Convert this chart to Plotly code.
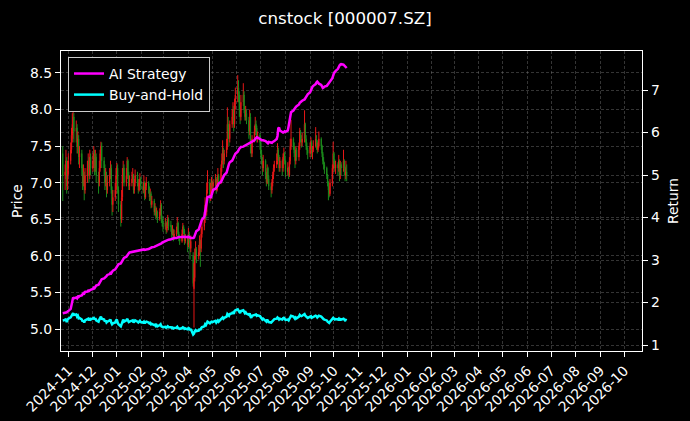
import pandas as pd
import numpy as np
import plotly.graph_objects as go

# ---- data ----
dates = pd.bdate_range("2024-10-25", "2025-10-17")

opens = [
    7.40,
    7.10, 7.15, 7.30, 6.95, 7.20,
    7.30, 7.45, 7.65, 7.80, 7.90,
    7.70, 7.75, 7.50, 7.60, 7.35,
    7.40, 7.20, 7.00, 7.10, 6.90,
    7.10, 7.20, 7.30, 7.10, 7.35,
    7.20, 7.30, 7.40, 7.20, 7.35,
    7.10, 7.00, 7.20, 7.40, 7.50,
    7.30, 7.20, 7.00, 7.10, 6.90,
    7.00, 7.10, 7.20, 6.90, 6.70,
    6.80, 6.90, 7.10, 7.20, 6.90,
    6.70, 6.50, 6.80, 7.10, 7.20,
    7.00, 7.10, 7.30, 7.10, 6.95,
    7.00, 7.05, 7.10, 6.90, 7.00,
    7.10, 7.00, 6.90, 7.00, 7.05,
    6.95, 6.90, 7.00, 6.80, 6.95,
    7.00, 6.90, 6.80, 6.85, 6.70,
    6.75, 6.60, 6.65, 6.55, 6.60,
    6.50, 6.60, 6.70, 6.50, 6.45,
    6.40, 6.45, 6.35, 6.40, 6.50,
    6.42, 6.40, 6.30, 6.35, 6.25,
    6.30, 6.35, 6.45, 6.30, 6.25,
    6.20, 6.30, 6.40, 6.35, 6.20,
    6.25, 6.15, 6.30, 6.25, 6.10,
    6.00, 5.55, 5.70, 6.00, 6.10,
    6.00, 6.05, 6.20, 6.10, 6.30,
    6.40, 6.50, 6.70, 6.60, 6.90,
    7.00, 6.80, 6.90, 7.00, 6.95,
    7.00, 7.05, 6.90, 7.00, 7.10,
    7.00, 7.20, 7.30, 7.45, 7.30,
    7.40, 7.50, 7.80, 7.70, 7.60,
    7.80, 7.90, 8.00, 7.80, 8.10,
    8.20, 8.30, 8.20, 8.00, 7.90,
    8.10, 8.20, 8.00, 7.90, 7.95,
    7.85, 7.70, 7.90, 7.50, 7.40,
    7.60, 7.70, 7.80, 7.75, 7.60,
    7.65, 7.55, 7.40, 7.30, 7.20,
    7.30, 7.10, 7.00, 7.20, 7.05,
    6.95, 6.90, 7.00, 7.10, 7.20,
    7.25, 7.30, 7.45, 7.35, 7.20,
    7.30, 7.20, 7.35, 7.40, 7.30,
    7.15, 7.20, 7.10, 7.30, 7.50,
    7.60, 7.50, 7.40, 7.30, 7.45,
    7.35, 7.50, 7.70, 7.60, 7.55,
    7.60, 7.80, 7.60, 7.50, 7.45,
    7.40, 7.50, 7.55, 7.40, 7.45,
    7.50, 7.60, 7.55, 7.45, 7.50,
    7.60, 7.50, 7.40, 7.30, 7.25,
    7.20, 7.10, 7.00, 6.90, 6.85,
    7.00, 7.20, 7.40, 7.30, 7.20,
    7.25, 7.20, 7.30, 7.10, 7.25,
    7.20, 7.30, 7.20, 7.10, 7.15,
]

highs = [
    7.50,
    7.25, 7.45, 7.35, 7.30, 7.40,
    7.55, 7.75, 7.95, 7.97, 7.95,
    7.85, 7.80, 7.70, 7.65, 7.50,
    7.45, 7.25, 7.25, 7.15, 7.20,
    7.30, 7.40, 7.35, 7.45, 7.40,
    7.40, 7.50, 7.45, 7.45, 7.40,
    7.15, 7.30, 7.45, 7.56, 7.55,
    7.35, 7.25, 7.20, 7.15, 7.10,
    7.20, 7.30, 7.25, 6.95, 6.90,
    7.00, 7.20, 7.27, 7.25, 6.95,
    6.75, 6.90, 7.20, 7.30, 7.25,
    7.20, 7.35, 7.32, 7.15, 7.10,
    7.15, 7.20, 7.12, 7.05, 7.18,
    7.15, 7.05, 7.05, 7.13, 7.08,
    7.00, 7.10, 7.02, 7.00, 7.08,
    7.02, 6.95, 6.92, 6.88, 6.82,
    6.78, 6.72, 6.68, 6.66, 6.62,
    6.65, 6.76, 6.72, 6.55, 6.50,
    6.52, 6.48, 6.46, 6.56, 6.52,
    6.48, 6.42, 6.42, 6.37, 6.36,
    6.40, 6.53, 6.47, 6.33, 6.28,
    6.36, 6.45, 6.42, 6.37, 6.30,
    6.28, 6.38, 6.33, 6.27, 6.28,
    6.05, 5.90, 6.10, 6.20, 6.12,
    6.15, 6.28, 6.22, 6.38, 6.50,
    6.60, 6.80, 6.72, 7.00, 7.17,
    7.05, 7.00, 7.08, 7.03, 7.05,
    7.12, 7.08, 7.05, 7.20, 7.12,
    7.25, 7.40, 7.58, 7.48, 7.45,
    7.60, 8.03, 7.90, 7.75, 7.85,
    8.00, 8.10, 8.05, 8.15, 8.30,
    8.47, 8.40, 8.25, 8.05, 8.20,
    8.36, 8.25, 8.05, 8.05, 8.00,
    7.90, 8.00, 7.95, 7.55, 7.65,
    7.78, 7.90, 7.85, 7.78, 7.70,
    7.68, 7.58, 7.45, 7.35, 7.38,
    7.32, 7.15, 7.25, 7.22, 7.10,
    7.00, 7.05, 7.15, 7.25, 7.30,
    7.40, 7.54, 7.48, 7.38, 7.35,
    7.32, 7.40, 7.48, 7.42, 7.32,
    7.28, 7.22, 7.35, 7.60, 7.86,
    7.62, 7.55, 7.45, 7.50, 7.48,
    7.55, 7.75, 7.72, 7.65, 7.68,
    7.99, 7.82, 7.65, 7.55, 7.48,
    7.55, 7.62, 7.58, 7.50, 7.58,
    7.76, 7.65, 7.58, 7.55, 7.70,
    7.62, 7.52, 7.42, 7.35, 7.28,
    7.22, 7.12, 7.02, 6.95, 7.05,
    7.25, 7.56, 7.42, 7.32, 7.30,
    7.28, 7.38, 7.32, 7.30, 7.28,
    7.45, 7.32, 7.22, 7.30, 7.25,
]

lows = [
    6.75,
    6.90, 7.05, 6.85, 6.90, 7.10,
    7.25, 7.40, 7.55, 7.60, 7.55,
    7.55, 7.40, 7.40, 7.25, 7.20,
    7.10, 6.90, 6.95, 6.76, 6.85,
    7.00, 7.10, 7.00, 7.05, 7.10,
    7.15, 7.20, 7.10, 7.15, 7.00,
    6.85, 6.95, 7.15, 7.30, 7.20,
    7.10, 6.90, 6.95, 6.80, 6.85,
    6.95, 7.05, 6.85, 6.55, 6.60,
    6.75, 6.85, 7.05, 6.85, 6.60,
    6.40, 6.45, 6.75, 7.00, 6.95,
    6.95, 7.05, 7.05, 6.90, 6.90,
    6.95, 7.00, 6.85, 6.85, 6.95,
    6.95, 6.85, 6.88, 6.95, 6.90,
    6.85, 6.86, 6.76, 6.78, 6.90,
    6.85, 6.75, 6.76, 6.65, 6.66,
    6.55, 6.56, 6.50, 6.52, 6.45,
    6.48, 6.55, 6.45, 6.40, 6.33,
    6.36, 6.30, 6.32, 6.38, 6.35,
    6.33, 6.25, 6.28, 6.20, 6.22,
    6.27, 6.32, 6.26, 6.20, 6.15,
    6.18, 6.27, 6.30, 6.15, 6.17,
    6.05, 6.12, 6.18, 5.95, 6.05,
    5.58, 5.02, 5.65, 5.95, 5.90,
    5.95, 6.00, 5.85, 6.05, 6.25,
    6.35, 6.45, 6.50, 6.55, 6.85,
    6.72, 6.75, 6.85, 6.88, 6.90,
    6.95, 6.85, 6.88, 6.95, 6.95,
    6.98, 7.15, 7.25, 7.20, 7.25,
    7.35, 7.45, 7.60, 7.50, 7.55,
    7.75, 7.80, 7.70, 7.75, 8.00,
    8.10, 8.10, 7.90, 7.80, 7.85,
    8.05, 7.95, 7.85, 7.85, 7.80,
    7.60, 7.65, 7.40, 7.35, 7.35,
    7.55, 7.65, 7.65, 7.55, 7.55,
    7.45, 7.35, 7.25, 7.10, 7.15,
    7.05, 6.95, 6.98, 7.00, 6.90,
    6.80, 6.85, 6.95, 7.05, 7.15,
    7.20, 7.25, 7.30, 7.15, 7.15,
    7.10, 7.15, 7.30, 7.25, 7.08,
    7.10, 7.05, 7.08, 7.25, 7.45,
    7.45, 7.35, 7.20, 7.25, 7.30,
    7.30, 7.45, 7.55, 7.48, 7.50,
    7.55, 7.55, 7.45, 7.38, 7.32,
    7.35, 7.45, 7.35, 7.32, 7.42,
    7.48, 7.45, 7.40, 7.42, 7.48,
    7.45, 7.35, 7.25, 7.18, 7.12,
    7.05, 6.95, 6.76, 6.80, 6.82,
    6.95, 7.15, 7.25, 7.15, 7.12,
    7.10, 7.15, 7.02, 7.05, 7.10,
    7.15, 7.10, 7.02, 7.05, 7.02,
]

closes = [
    7.10,
    7.15, 7.30, 6.95, 7.20, 7.30,
    7.45, 7.65, 7.80, 7.90, 7.70,
    7.75, 7.50, 7.60, 7.35, 7.40,
    7.20, 7.00, 7.10, 6.90, 7.10,
    7.20, 7.30, 7.10, 7.35, 7.20,
    7.30, 7.40, 7.20, 7.35, 7.10,
    7.00, 7.20, 7.40, 7.50, 7.30,
    7.20, 7.00, 7.10, 6.90, 7.00,
    7.10, 7.20, 6.90, 6.70, 6.80,
    6.90, 7.10, 7.20, 6.90, 6.70,
    6.50, 6.80, 7.10, 7.20, 7.00,
    7.10, 7.30, 7.10, 6.95, 7.00,
    7.05, 7.10, 6.90, 7.00, 7.10,
    7.00, 6.90, 7.00, 7.05, 6.95,
    6.90, 7.00, 6.80, 6.95, 7.00,
    6.90, 6.80, 6.85, 6.70, 6.75,
    6.60, 6.65, 6.55, 6.60, 6.50,
    6.60, 6.70, 6.50, 6.45, 6.40,
    6.45, 6.35, 6.40, 6.50, 6.40,
    6.40, 6.30, 6.35, 6.25, 6.30,
    6.35, 6.45, 6.30, 6.25, 6.20,
    6.30, 6.40, 6.35, 6.20, 6.25,
    6.15, 6.30, 6.25, 6.10, 6.20,
    5.62, 5.70, 6.00, 6.10, 6.00,
    6.05, 6.20, 6.10, 6.30, 6.40,
    6.50, 6.70, 6.60, 6.90, 7.00,
    6.80, 6.90, 7.00, 6.95, 7.00,
    7.05, 6.90, 7.00, 7.10, 7.00,
    7.20, 7.30, 7.45, 7.30, 7.40,
    7.50, 7.80, 7.70, 7.60, 7.80,
    7.90, 8.00, 7.80, 8.10, 8.20,
    8.30, 8.20, 8.00, 7.90, 8.10,
    8.20, 8.00, 7.90, 7.95, 7.85,
    7.70, 7.90, 7.50, 7.40, 7.60,
    7.70, 7.80, 7.75, 7.60, 7.65,
    7.55, 7.40, 7.30, 7.20, 7.30,
    7.10, 7.00, 7.20, 7.05, 6.95,
    6.90, 7.00, 7.10, 7.20, 7.25,
    7.30, 7.45, 7.35, 7.20, 7.30,
    7.20, 7.35, 7.40, 7.30, 7.15,
    7.20, 7.10, 7.30, 7.50, 7.60,
    7.50, 7.40, 7.30, 7.45, 7.35,
    7.50, 7.70, 7.60, 7.55, 7.60,
    7.80, 7.60, 7.50, 7.45, 7.40,
    7.50, 7.55, 7.40, 7.45, 7.50,
    7.60, 7.55, 7.45, 7.50, 7.60,
    7.50, 7.40, 7.30, 7.25, 7.20,
    7.10, 7.00, 6.90, 6.85, 7.00,
    7.20, 7.40, 7.30, 7.20, 7.25,
    7.20, 7.30, 7.10, 7.25, 7.20,
    7.30, 7.20, 7.10, 7.15, 7.10,
]

ai_strategy = [
    1.75,
    1.76, 1.78, 1.77, 1.79, 1.80,
    1.85, 1.95, 2.05, 2.12, 2.10,
    2.12, 2.10, 2.14, 2.13, 2.15,
    2.17, 2.20, 2.22, 2.21, 2.25,
    2.26, 2.28, 2.27, 2.30, 2.30,
    2.32, 2.35, 2.34, 2.38, 2.40,
    2.42, 2.45, 2.50, 2.53, 2.55,
    2.57, 2.58, 2.61, 2.62, 2.65,
    2.67, 2.70, 2.69, 2.72, 2.75,
    2.78, 2.82, 2.86, 2.88, 2.90,
    2.92, 2.96, 3.00, 3.03, 3.05,
    3.08, 3.12, 3.15, 3.16, 3.18,
    3.19, 3.20, 3.20, 3.21, 3.22,
    3.22, 3.23, 3.23, 3.24, 3.24,
    3.24, 3.25, 3.24, 3.25, 3.25,
    3.26, 3.27, 3.28, 3.29, 3.30,
    3.31, 3.32, 3.33, 3.34, 3.35,
    3.36, 3.38, 3.39, 3.41, 3.42,
    3.43, 3.44, 3.45, 3.47, 3.48,
    3.49, 3.50, 3.50, 3.51, 3.52,
    3.52, 3.53, 3.53, 3.54, 3.54,
    3.55, 3.56, 3.55, 3.54, 3.55,
    3.54, 3.55, 3.54, 3.52, 3.52,
    3.52, 3.53, 3.58, 3.64, 3.68,
    3.72, 3.78, 3.82, 3.88, 3.95,
    4.02, 4.12, 4.22, 4.35, 4.48,
    4.50, 4.46, 4.52, 4.58, 4.65,
    4.68, 4.70, 4.72, 4.76, 4.80,
    4.84, 4.88, 4.92, 4.96, 5.00,
    5.06, 5.14, 5.20, 5.26, 5.30,
    5.34, 5.38, 5.42, 5.46, 5.50,
    5.55, 5.60, 5.62, 5.64, 5.66,
    5.67, 5.68, 5.70, 5.71, 5.72,
    5.74, 5.76, 5.78, 5.79, 5.80,
    5.82, 5.85, 5.88, 5.89, 5.88,
    5.86, 5.84, 5.82, 5.81, 5.82,
    5.80, 5.78, 5.76, 5.75, 5.78,
    5.77, 5.76, 5.78, 5.80, 5.80,
    5.85, 5.92, 6.10, 6.12, 6.05,
    6.02, 6.00, 6.01, 6.03, 6.02,
    6.05, 6.15, 6.30, 6.45, 6.48,
    6.52, 6.56, 6.58, 6.60, 6.62,
    6.66, 6.70, 6.72, 6.74, 6.75,
    6.78, 6.82, 6.85, 6.88, 6.90,
    6.95, 7.00, 7.05, 7.08, 7.10,
    7.14, 7.18, 7.20, 7.18, 7.15,
    7.12, 7.08, 7.05, 7.06, 7.08,
    7.10, 7.12, 7.15, 7.18, 7.20,
    7.28, 7.35, 7.40, 7.42, 7.45,
    7.50, 7.55, 7.58, 7.60, 7.61,
    7.60, 7.58, 7.56, 7.54, 7.52,
]

buy_and_hold = [
    1.58,
    1.59, 1.62, 1.54, 1.60, 1.62,
    1.65, 1.70, 1.73, 1.75, 1.71,
    1.72, 1.67, 1.69, 1.63, 1.64,
    1.60, 1.55, 1.58, 1.53, 1.58,
    1.60, 1.62, 1.58, 1.63, 1.60,
    1.62, 1.64, 1.60, 1.63, 1.58,
    1.55, 1.60, 1.64, 1.67, 1.62,
    1.60, 1.55, 1.58, 1.53, 1.55,
    1.58, 1.60, 1.53, 1.49, 1.51,
    1.53, 1.58, 1.60, 1.53, 1.49,
    1.44, 1.51, 1.58, 1.60, 1.55,
    1.58, 1.62, 1.58, 1.54, 1.55,
    1.57, 1.58, 1.53, 1.55, 1.58,
    1.55, 1.53, 1.55, 1.57, 1.54,
    1.53, 1.55, 1.51, 1.54, 1.55,
    1.53, 1.51, 1.52, 1.49, 1.50,
    1.47, 1.48, 1.45, 1.47, 1.44,
    1.47, 1.49, 1.44, 1.43, 1.42,
    1.43, 1.41, 1.42, 1.44, 1.42,
    1.42, 1.40, 1.41, 1.39, 1.40,
    1.41, 1.43, 1.40, 1.39, 1.38,
    1.40, 1.42, 1.41, 1.38, 1.39,
    1.37, 1.40, 1.39, 1.35, 1.38,
    1.25, 1.27, 1.33, 1.35, 1.33,
    1.34, 1.38, 1.35, 1.40, 1.42,
    1.44, 1.49, 1.47, 1.53, 1.55,
    1.51, 1.53, 1.55, 1.54, 1.55,
    1.57, 1.53, 1.55, 1.58, 1.55,
    1.60, 1.62, 1.65, 1.62, 1.64,
    1.67, 1.73, 1.71, 1.69, 1.73,
    1.75, 1.78, 1.73, 1.80, 1.82,
    1.84, 1.82, 1.78, 1.75, 1.80,
    1.82, 1.78, 1.75, 1.77, 1.74,
    1.71, 1.75, 1.67, 1.64, 1.69,
    1.71, 1.73, 1.72, 1.69, 1.70,
    1.68, 1.64, 1.62, 1.60, 1.62,
    1.58, 1.55, 1.60, 1.57, 1.54,
    1.53, 1.55, 1.58, 1.60, 1.61,
    1.62, 1.65, 1.63, 1.60, 1.62,
    1.60, 1.63, 1.64, 1.62, 1.59,
    1.60, 1.58, 1.62, 1.67, 1.69,
    1.67, 1.64, 1.62, 1.65, 1.63,
    1.67, 1.71, 1.69, 1.68, 1.69,
    1.73, 1.69, 1.67, 1.65, 1.64,
    1.67, 1.68, 1.64, 1.65, 1.67,
    1.69, 1.68, 1.65, 1.67, 1.69,
    1.67, 1.64, 1.62, 1.61, 1.60,
    1.58, 1.55, 1.53, 1.52, 1.55,
    1.60, 1.64, 1.62, 1.60, 1.61,
    1.60, 1.62, 1.58, 1.61, 1.60,
    1.62, 1.60, 1.58, 1.59, 1.58,
]

title_text = "cnstock [000007.SZ]"
x_range = ["2024-10-22 19:00", "2026-10-23 07:00"]

# keep wicks consistent with bodies
o = np.array(opens); c = np.array(closes)
h = np.maximum(np.array(highs), np.maximum(o, c))
l = np.minimum(np.array(lows), np.minimum(o, c))

UP = "#ff1a1a"
DOWN = "#1f9a1f"
GRID = "rgba(130,130,130,0.40)"
FONT = "DejaVu Sans"

# plot-area geometry (px)
W, H = 690, 421
L, R, T, B = 61, 48, 51, 70
PW = W - L - R

fig = go.Figure()
fig.add_trace(go.Candlestick(
    x=dates, open=o, high=h, low=l, close=c,
    increasing=dict(line=dict(color=UP, width=1), fillcolor=UP),
    decreasing=dict(line=dict(color=DOWN, width=1), fillcolor=DOWN),
    whiskerwidth=0, showlegend=False, yaxis="y", opacity=0.9,
))
fig.add_trace(go.Scatter(
    x=dates, y=ai_strategy, mode="lines", name="AI Strategy",
    line=dict(color="#ff00ff", width=2.5), yaxis="y2",
))
fig.add_trace(go.Scatter(
    x=dates, y=buy_and_hold, mode="lines", name="Buy-and-Hold",
    line=dict(color="#00ffff", width=2.5), yaxis="y2",
))

axis_common = dict(
    showline=True, linecolor="white", linewidth=1.2,
    ticks="outside", tickcolor="white", ticklen=5, tickwidth=1,
    showgrid=True, gridcolor=GRID, gridwidth=0.7, griddash="3px,2px",
    zeroline=False, automargin=False,
    tickfont=dict(size=13.9, color="white", family=FONT),
)

fig.update_layout(
    width=W, height=H,
    margin=dict(l=L, r=R, t=T, b=B, autoexpand=False),
    paper_bgcolor="black", plot_bgcolor="black",
    font=dict(family=FONT, color="white", size=13.9),
    title=dict(text=title_text, x=0.5, xanchor="center", y=1 - 18 / H,
               yanchor="middle", font=dict(size=16.7, color="white", family=FONT)),
    xaxis=dict(
        type="date", range=x_range, tickformat="%Y-%m", dtick="M1",
        tick0="2024-11-01", tickangle=-45, mirror=True,
        rangeslider=dict(visible=False), **axis_common,
    ),
    yaxis=dict(
        range=[4.70, 8.80], dtick=0.5, tick0=5.0, tickformat=".1f",
        side="left", mirror=False, **axis_common,
    ),
    yaxis2=dict(
        range=[0.86, 7.92], dtick=1, tick0=1, overlaying="y", side="right",
        **axis_common,
    ),
    legend=dict(
        x=(68 - L) / PW, y=0.98, xanchor="left", yanchor="top",
        bgcolor="black", bordercolor="#cccccc", borderwidth=1,
        font=dict(size=13.9, color="white", family=FONT),
        tracegroupgap=0, itemwidth=30,
    ),
    showlegend=True,
    annotations=[
        dict(text="Price", xref="paper", yref="paper", x=(17 - L) / PW, y=0.5,
             textangle=-90, showarrow=False, xanchor="center", yanchor="middle",
             font=dict(size=13.9, color="white", family=FONT)),
        dict(text="Return", xref="paper", yref="paper", x=(673 - L) / PW, y=0.5,
             textangle=-90, showarrow=False, xanchor="center", yanchor="middle",
             font=dict(size=13.9, color="white", family=FONT)),
    ],
)

fig.write_html(
    "out.html",
    config={"displayModeBar": False},
    post_script="document.body.style.margin='0';document.body.style.padding='0';"
                "document.body.style.overflow='hidden';"
                "document.body.style.background='black';",
)
